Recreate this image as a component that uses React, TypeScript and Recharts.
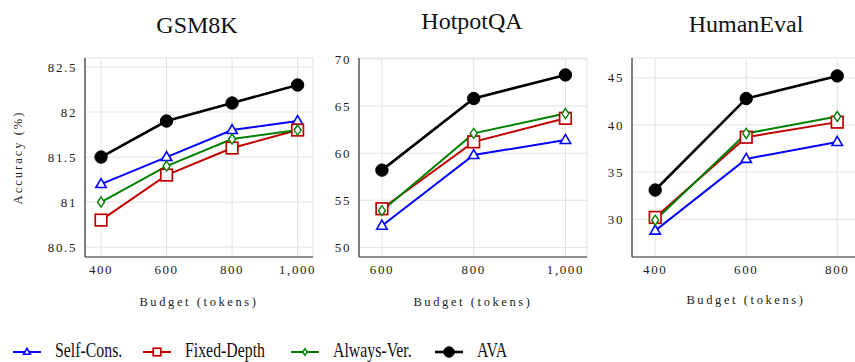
import React from 'react';
import { LineChart, Line, XAxis, YAxis, CartesianGrid } from 'recharts';

// GSM8K
const gsmBudget = [400, 600, 800, 1000];
const gsmSelfCons = [81.2, 81.5, 81.8, 81.9];
const gsmFixedDepth = [80.8, 81.3, 81.6, 81.8];
const gsmAlwaysVer = [81.0, 81.4, 81.7, 81.8];
const gsmAva = [81.5, 81.9, 82.1, 82.3];

// HotpotQA
const hotpotBudget = [600, 800, 1000];
const hotpotSelfCons = [52.3, 59.8, 61.4];
const hotpotFixedDepth = [54.1, 61.2, 63.7];
const hotpotAlwaysVer = [53.9, 62.1, 64.2];
const hotpotAva = [58.2, 65.8, 68.3];

// HumanEval
const humanBudget = [400, 600, 800];
const humanSelfCons = [28.8, 36.4, 38.2];
const humanFixedDepth = [30.2, 38.7, 40.3];
const humanAlwaysVer = [29.9, 39.1, 40.9];
const humanAva = [33.1, 42.8, 45.2];

const gsmYTicks = [80.5, 81, 81.5, 82, 82.5];
const hotpotYTicks = [50, 55, 60, 65, 70];
const humanYTicks = [30, 35, 40, 45];

const BLUE = '#0000ff';
const RED = '#c00000';
const GREEN = '#008000';
const BLACK = '#000000';
const FONT = "'Liberation Serif', serif";

const buildRows = (x: number[], a: number[], b: number[], c: number[], d: number[]) =>
  x.map((budget, i) => ({ budget, selfCons: a[i], fixedDepth: b[i], alwaysVer: c[i], ava: d[i] }));

// marker shapes, k scales the size (legend uses smaller ones)
const tri = (cx: number, cy: number, color: string, key?: any, k = 1) => (
  <path key={key} d={`M${cx},${cy - 5.5 * k} L${cx + 5.2 * k},${cy + 3.5 * k} L${cx - 5.2 * k},${cy + 3.5 * k} Z`} fill="#fff" stroke={color} strokeWidth={1.6} />
);
const sq = (cx: number, cy: number, color: string, key?: any, k = 1) => (
  <rect key={key} x={cx - 5.8 * k} y={cy - 5.8 * k} width={11.6 * k} height={11.6 * k} fill="#fff" stroke={color} strokeWidth={1.7} />
);
const dia = (cx: number, cy: number, color: string, key?: any, k = 1) => (
  <path key={key} d={`M${cx},${cy - 5 * k} L${cx + 3.5 * k},${cy} L${cx},${cy + 5 * k} L${cx - 3.5 * k},${cy} Z`} fill="#fff" stroke={color} strokeWidth={1.4} />
);
const circ = (cx: number, cy: number, color: string, key?: any, k = 1) => (
  <circle key={key} cx={cx} cy={cy} r={6.2 * k} fill={color} stroke={color} />
);

const dotOf = (shape: typeof tri, color: string) => (p: any) =>
  p.cx == null || p.cy == null ? <g key={p.index} /> : shape(p.cx, p.cy, color, p.index);

const SERIES = [
  { key: 'selfCons', label: 'Self-Cons.', color: BLUE, shape: tri, width: 2 },
  { key: 'fixedDepth', label: 'Fixed-Depth', color: RED, shape: sq, width: 2 },
  { key: 'alwaysVer', label: 'Always-Ver.', color: GREEN, shape: dia, width: 2 },
  { key: 'ava', label: 'AVA', color: BLACK, shape: circ, width: 2.6 },
];

const tickStyle = { fill: '#222', fontSize: 13, style: { fontFamily: FONT, letterSpacing: '1.6px' } };
const fmt = (v: number) => v.toLocaleString('en-US');

interface PanelProps {
  left: number;
  width: number;
  marginLeft: number;
  marginRight: number;
  yWidth: number;
  xDomain: [number, number];
  xTicks: number[];
  yDomain: [number, number];
  yTicks: number[];
  data: any[];
  yLabel?: string;
  xLabelOffset: number;
}

const Panel: React.FC<PanelProps> = (p) => (
  <div style={{ position: 'absolute', left: p.left, top: 0 }}>
    <LineChart width={p.width} height={310} data={p.data} margin={{ top: 58, right: p.marginRight, left: p.marginLeft, bottom: 3 }}>
      <CartesianGrid stroke="#e2e2e2" strokeWidth={1} />
      <XAxis
        dataKey="budget"
        type="number"
        domain={p.xDomain}
        ticks={p.xTicks}
        allowDataOverflow
        height={50}
        stroke="#333"
        tickLine={false}
        tickSize={0}
        tickMargin={8}
        tick={tickStyle}
        tickFormatter={fmt}
        axisLine={{ stroke: '#333', strokeWidth: 1.2 }}
        label={{ value: 'Budget (tokens)', position: 'insideBottom', offset: p.xLabelOffset, style: { fontSize: 12.5, fontFamily: FONT, letterSpacing: '2.6px', fill: '#222' } }}
      />
      <XAxis
        xAxisId="top"
        orientation="top"
        type="number"
        domain={p.xDomain}
        ticks={p.xTicks}
        allowDataOverflow
        height={0}
        stroke="#555"
        tickSize={-5}
        tickFormatter={() => ''}
        axisLine={{ stroke: '#333', strokeWidth: 1.2 }}
      />
      <YAxis
        type="number"
        domain={p.yDomain}
        ticks={p.yTicks}
        allowDataOverflow
        width={p.yWidth}
        stroke="#333"
        tickLine={false}
        tickSize={0}
        tickMargin={8}
        tick={tickStyle}
        axisLine={{ stroke: '#333', strokeWidth: 1.2 }}
        label={
          p.yLabel
            ? { value: p.yLabel, angle: -90, position: 'insideLeft', offset: 5, style: { textAnchor: 'middle', fontSize: 12.5, fontFamily: FONT, letterSpacing: '2px', fill: '#222' } }
            : undefined
        }
      />
      <YAxis
        yAxisId="right"
        orientation="right"
        type="number"
        domain={p.yDomain}
        ticks={p.yTicks}
        allowDataOverflow
        width={0}
        stroke="#555"
        tickSize={-5}
        tickFormatter={() => ''}
        axisLine={{ stroke: '#333', strokeWidth: 1.2 }}
      />
      {SERIES.map((s) => (
        <Line
          key={s.key}
          type="linear"
          dataKey={s.key}
          stroke={s.color}
          strokeWidth={s.width}
          dot={dotOf(s.shape, s.color)}
          activeDot={false}
          isAnimationActive={false}
        />
      ))}
    </LineChart>
  </div>
);

const legendX = [13, 143, 291, 435];
const textStyle = { fontFamily: FONT };

export default function App() {
  return (
    <div style={{ position: 'absolute', left: 0, top: 0, width: 855, height: 362, overflow: 'hidden', background: '#fff', fontFamily: FONT }}>
      <Panel
        left={0}
        width={320}
        marginLeft={13}
        marginRight={7}
        yWidth={72}
        xDomain={[351, 1047]}
        xTicks={gsmBudget}
        yDomain={[80.39, 82.6]}
        yTicks={gsmYTicks}
        data={buildRows(gsmBudget, gsmSelfCons, gsmFixedDepth, gsmAlwaysVer, gsmAva)}
        yLabel="Accuracy (%)"
        xLabelOffset={1}
      />
      <Panel
        left={320}
        width={270}
        marginLeft={9}
        marginRight={3}
        yWidth={30}
        xDomain={[550, 1047]}
        xTicks={hotpotBudget}
        yDomain={[48.98, 70.1]}
        yTicks={hotpotYTicks}
        data={buildRows(hotpotBudget, hotpotSelfCons, hotpotFixedDepth, hotpotAlwaysVer, hotpotAva)}
        xLabelOffset={1.5}
      />
      <Panel
        left={590}
        width={275}
        marginLeft={12}
        marginRight={5}
        yWidth={30}
        xDomain={[349, 850]}
        xTicks={humanBudget}
        yDomain={[26, 47.1]}
        yTicks={humanYTicks}
        data={buildRows(humanBudget, humanSelfCons, humanFixedDepth, humanAlwaysVer, humanAva)}
        xLabelOffset={3.5}
      />
      <svg width={855} height={362} style={{ position: 'absolute', left: 0, top: 0, pointerEvents: 'none' }}>
        <text x={197} y={33} textAnchor="middle" style={textStyle} fontSize={24} fill="#111">GSM8K</text>
        <text x={472} y={29} textAnchor="middle" style={textStyle} fontSize={24} fill="#111">HotpotQA</text>
        <text x={746} y={32} textAnchor="middle" style={textStyle} fontSize={24} fill="#111">HumanEval</text>
        {SERIES.map((s, i) => {
          const x = legendX[i];
          return (
            <g key={s.key}>
              <line x1={x} x2={x + 28} y1={352} y2={352} stroke={s.color} strokeWidth={s.width} />
              {s.shape(x + 14, 352, s.color, undefined, s.key === 'ava' ? 0.85 : 0.65)}
              <text x={x + 42} y={357.5} style={textStyle} fontSize={22} fill="#111" transform={`translate(${x + 42},0) scale(0.72,1) translate(${-(x + 42)},0)`}>
                {s.label}
              </text>
            </g>
          );
        })}
      </svg>
    </div>
  );
}
